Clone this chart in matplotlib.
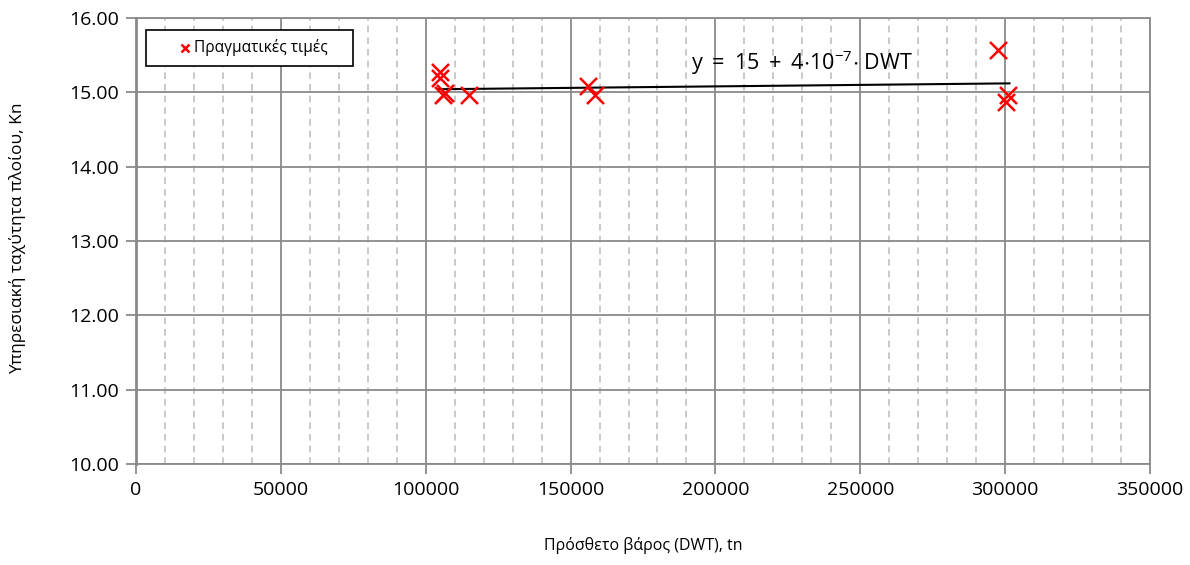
import matplotlib
matplotlib.use("Agg")
import matplotlib.pyplot as plt
from matplotlib.ticker import MultipleLocator, FormatStrFormatter
from matplotlib.patches import Rectangle
from matplotlib.lines import Line2D
import numpy as np

# Ship deadweight (DWT, tn) and service speed (kn)
dwt = [104900, 104900, 106000, 106500, 115000, 156100, 158400, 297400, 301100, 300300]
speed = [15.28, 15.19, 14.96, 14.99, 14.97, 15.08, 14.97, 15.57, 14.97, 14.87]

# Linear trend: y = intercept + slope * DWT
intercept = 15.0
slope = 4e-7
trend_x = [104300, 301500]

x_ticks = [0, 50000, 100000, 150000, 200000, 250000, 300000, 350000]
y_ticks = [10, 11, 12, 13, 14, 15, 16]

plt.rcParams['font.family'] = ['Open Sans', 'DejaVu Sans']
plt.rcParams['mathtext.fontset'] = 'custom'
plt.rcParams['mathtext.rm'] = 'Open Sans'

W, H = 1190, 565
fig = plt.figure(figsize=(W / 100, H / 100), dpi=100)
ax = fig.add_axes([136 / W, 1 - 464 / H, (1150 - 136) / W, (464 - 18) / H])

ax.set_xlim(0, 350000)
ax.set_ylim(10, 16)
ax.set_xticks(x_ticks)
ax.set_yticks(y_ticks)
ax.xaxis.set_minor_locator(MultipleLocator(10000))
ax.yaxis.set_major_formatter(FormatStrFormatter('%.2f'))

ax.grid(which='major', color='#8a8a8a', linewidth=1.3, linestyle='-')
ax.grid(which='minor', axis='x', color='#c0c0c0', linewidth=1.2, linestyle=(0, (4, 3)))
ax.set_axisbelow(True)
for side in ['top', 'right', 'bottom', 'left']:
    ax.spines[side].set_color('#8a8a8a')
    ax.spines[side].set_linewidth(1.3)
ax.spines['left'].set_linewidth(2)
ax.tick_params(which='major', length=7, color='#8a8a8a', width=1.3, labelsize=14, pad=5)
ax.tick_params(which='minor', length=0)

tx = np.array(trend_x, dtype=float)
ax.plot(tx, intercept + slope * tx, color='black', linewidth=1.5, zorder=3)

ax.scatter(dwt, speed, marker='x', color='red', s=150, linewidths=1.8, zorder=4)

ax.text(191500, 15.40,
        r'$\mathregular{y\;=\;15\;+\;4{\cdot}10^{-7}{\cdot}\;DWT}$',
        fontsize=15.5, ha='left', va='center')

# Legend box
def px(x, y):
    return x / W, 1 - y / H

x0, y0 = px(146, 66)
x1, y1 = px(353, 30)
fig.add_artist(Rectangle((x0, y0), x1 - x0, y1 - y0, transform=fig.transFigure,
                         facecolor='white', edgecolor='black', linewidth=1.2, zorder=5))
mx, my = px(185, 48)
fig.add_artist(Line2D([mx], [my], transform=fig.transFigure, marker='x', color='red',
                      markersize=6, markeredgewidth=1.8, zorder=6))
tx0, ty0 = px(194, 48)
fig.text(tx0, ty0, 'Πραγματικές τιμές', ha='left', va='center', fontsize=11.2, zorder=6)

fig.text(18 / W, 1 - 238 / H, 'Υπηρεσιακή ταχύτητα πλοίου, Kn', rotation=90,
         ha='center', va='center', fontsize=12.5)
fig.text(643 / W, 1 - 545 / H, 'Πρόσθετο βάρος (DWT), tn', ha='center', va='center',
         fontsize=11.5)

fig.savefig('out.png', dpi=100, facecolor='white')
